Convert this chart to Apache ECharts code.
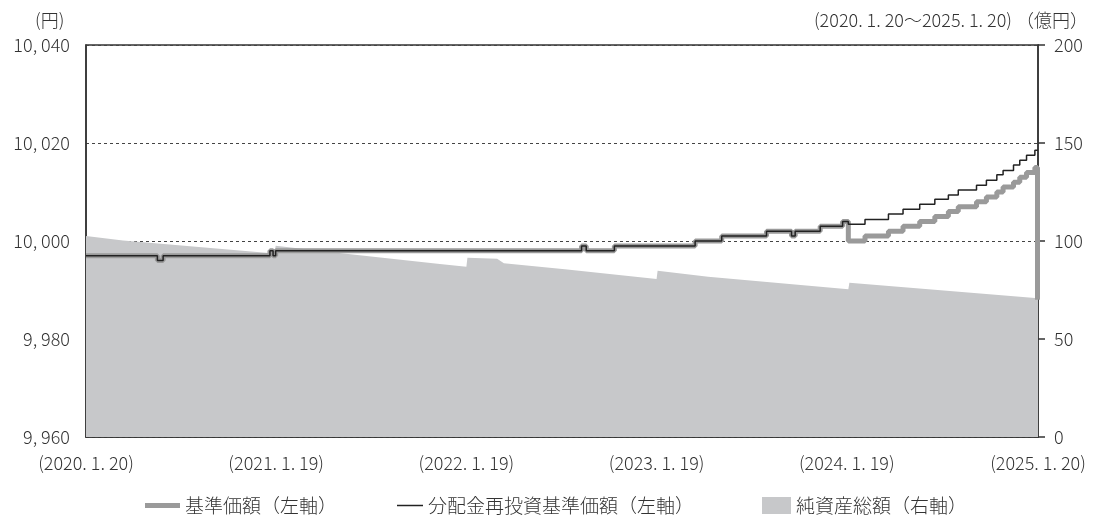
<!DOCTYPE html>
<html>
<head>
<meta charset="utf-8">
<script src="https://cdn.jsdelivr.net/npm/echarts@6/dist/echarts.min.js"></script>
<style>
  html, body { margin: 0; padding: 0; background: #fff; }
  #chart { width: 1094px; height: 522px; }
</style>
</head>
<body>
<div id="chart"></div>
<script>
// x is days since 2020.1.20
const xTickDays = [0, 365, 730, 1095, 1460, 1827];
const xTickLabels = ['(2020. 1. 20)', '(2021. 1. 19)', '(2022. 1. 19)', '(2023. 1. 19)', '(2024. 1. 19)', '(2025. 1. 20)'];

// 基準価額 (change points: [day, yen])
const navPoints = [
  [0, 9997], [137, 9996], [148, 9997], [353, 9998], [359, 9997], [364, 9998],
  [951, 9999], [960, 9998], [1014, 9999], [1169, 10000], [1220, 10001],
  [1306, 10002], [1354, 10001], [1361, 10002], [1409, 10003], [1452, 10004],
  [1463, 10000], [1495, 10001], [1540, 10002], [1568, 10003], [1600, 10004],
  [1629, 10005], [1655, 10006], [1674, 10007], [1709, 10008], [1728, 10009],
  [1748, 10010], [1760, 10011], [1780, 10012], [1792, 10013], [1805, 10014],
  [1821, 10015], [1826, 9988], [1827, 9988]
];

// 分配金再投資基準価額
const reinvPoints = [
  [0, 9997], [137, 9996], [148, 9997], [353, 9998], [359, 9997], [364, 9998],
  [951, 9999], [960, 9998], [1014, 9999], [1169, 10000], [1220, 10001],
  [1306, 10002], [1354, 10001], [1361, 10002], [1409, 10003], [1452, 10004],
  [1463, 10003.4], [1495, 10004.4], [1540, 10005.5], [1568, 10006.5], [1600, 10007.5],
  [1629, 10008.5], [1655, 10009.4], [1674, 10010.4], [1709, 10011.4], [1728, 10012.4],
  [1748, 10013.5], [1760, 10014.4], [1780, 10015.5], [1792, 10016.5], [1805, 10017.5],
  [1821, 10018.5], [1827, 10018.5]
];

// 純資産総額 (億円)
const assetPoints = [
  [0, 102.6], [71, 100.2], [362, 93.6], [364, 97.6], [468, 94.4], [679, 88.3],
  [730, 86.9], [732, 91.5], [789, 91.0], [802, 88.6], [919, 85.6],
  [1095, 80.6], [1097, 84.8], [1194, 81.8], [1463, 75.4], [1465, 78.7], [1827, 70.8]
];

const fontFamily = '"Noto Sans CJK JP", "Noto Sans", sans-serif';
const fontWeight = 300;
const textColor = '#333';

const fmtYen = (v) => {
  const th = Math.floor(v / 1000);
  const rest = String(v % 1000).padStart(3, '0');
  return th + ', ' + rest;
};

const chart = echarts.init(document.getElementById('chart'));
chart.setOption({
  animation: false,
  textStyle: { fontFamily, fontWeight },
  grid: {
    left: 86, right: 56, top: 45, bottom: 85,
    show: true, borderColor: '#333', borderWidth: 1.5
  },
  graphic: [
    {
      type: 'text', left: 35, top: 11,
      style: { text: '(円)', fontSize: 18, fill: textColor, fontFamily, fontWeight }
    },
    {
      type: 'text', right: 6, top: 11,
      style: { text: '(2020. 1. 20〜2025. 1. 20) （億円）', fontSize: 18, fill: textColor, fontFamily, fontWeight }
    }
  ],
  legend: [
    {
      data: [{ name: '基準価額（左軸）', icon: 'rect', itemStyle: { color: '#9a9a9a' } }],
      left: 140, bottom: 2, itemWidth: 35, itemHeight: 5, itemGap: 4,
      textStyle: { fontSize: 19, color: textColor, fontFamily, fontWeight }
    },
    {
      data: [{ name: '分配金再投資基準価額（左軸）', icon: 'rect', itemStyle: { color: '#222' } }],
      left: 392, bottom: 2, itemWidth: 26, itemHeight: 1.5,
      textStyle: { fontSize: 19, color: textColor, fontFamily, fontWeight }
    },
    {
      data: [{ name: '純資産総額（右軸）', icon: 'rect', itemStyle: { color: '#c7c8ca' } }],
      left: 757, bottom: 2, itemWidth: 29, itemHeight: 17,
      textStyle: { fontSize: 19, color: textColor, fontFamily, fontWeight }
    }
  ],
  xAxis: {
    type: 'value', min: 0, max: 1827,
    axisLine: { show: true, lineStyle: { color: '#333', width: 1.5 } },
    axisTick: { show: false },
    splitLine: { show: false },
    axisLabel: {
      customValues: xTickDays,
      margin: 17,
      fontSize: 18, color: textColor, fontFamily, fontWeight,
      formatter: (v) => xTickLabels[xTickDays.indexOf(v)] || ''
    }
  },
  yAxis: [
    {
      type: 'value', min: 9960, max: 10040, interval: 20,
      axisLine: { show: true, lineStyle: { color: '#333', width: 1.5 } },
      axisTick: { show: false },
      axisLabel: { margin: 16, fontSize: 18, color: textColor, fontFamily, fontWeight, formatter: fmtYen },
      splitLine: { show: true, lineStyle: { color: '#444', type: [3, 3], width: 1 } }
    },
    {
      type: 'value', min: 0, max: 200, interval: 50, position: 'right',
      axisLine: { show: true, lineStyle: { color: '#333', width: 1.5 } },
      axisTick: { show: true, length: 7, lineStyle: { color: '#333', width: 1.5 } },
      axisLabel: { margin: 16, fontSize: 18, color: textColor, fontFamily, fontWeight },
      splitLine: { show: false }
    }
  ],
  series: [
    {
      name: '純資産総額（右軸）', type: 'line', yAxisIndex: 1,
      data: assetPoints, symbol: 'none',
      lineStyle: { width: 0, color: '#c7c8ca' },
      itemStyle: { color: '#c7c8ca' },
      areaStyle: { color: '#c7c8ca', opacity: 1 },
      z: 1
    },
    {
      name: '基準価額（左軸）', type: 'line', yAxisIndex: 0,
      data: navPoints, step: 'end', symbol: 'none',
      lineStyle: { width: 5, color: '#9a9a9a' },
      itemStyle: { color: '#9a9a9a' },
      z: 2
    },
    {
      name: '分配金再投資基準価額（左軸）', type: 'line', yAxisIndex: 0,
      data: reinvPoints, step: 'end', symbol: 'none',
      lineStyle: { width: 1.5, color: '#222' },
      itemStyle: { color: '#222' },
      z: 3
    }
  ]
});
</script>
</body>
</html>
